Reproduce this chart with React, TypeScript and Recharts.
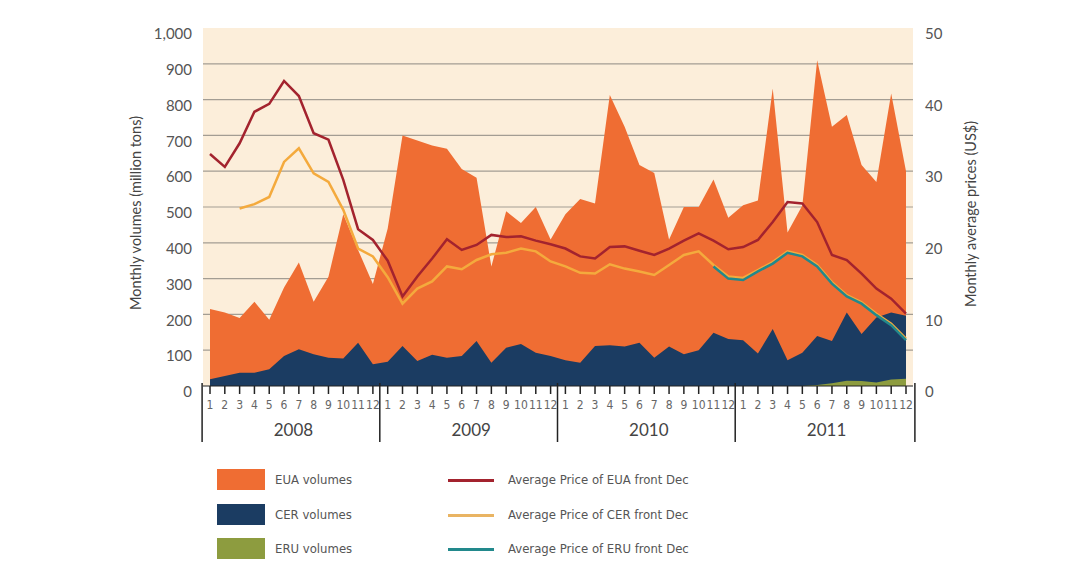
import React from 'react';
import { ComposedChart, Area, Line, XAxis, YAxis, CartesianGrid } from 'recharts';

const years = [2008, 2009, 2010, 2011];
const months = [1, 2, 3, 4, 5, 6, 7, 8, 9, 10, 11, 12];

// monthly volumes, million tons
const euaVolumes = [
  215, 205, 190, 235, 185, 275, 345, 235, 305, 480, 380, 285,
  440, 700, 686, 672, 663, 606, 582, 334, 488, 455, 500, 409,
  480, 522, 510, 813, 724, 617, 595, 409, 500, 500, 577, 470,
  505, 518, 831, 429, 504, 910, 724, 757, 617, 570, 817, 600,
];
const cerVolumes = [
  19, 28, 37, 37, 47, 84, 103, 89, 79, 77, 121, 61,
  68, 112, 70, 87, 79, 84, 126, 65, 107, 117, 93, 84,
  72, 65, 112, 114, 110, 121, 79, 110, 89, 100, 149, 131,
  128, 91, 159, 72, 93, 140, 126, 205, 145, 191, 205, 196,
];
const eruVolumes = [
  0, 0, 0, 0, 0, 0, 0, 0, 0, 0, 0, 0,
  0, 0, 0, 0, 0, 0, 0, 0, 0, 0, 0, 0,
  0, 0, 0, 0, 0, 0, 0, 0, 0, 0, 0, 0,
  0, 0, 0, 0, 0, 3, 8, 15, 14, 10, 18, 20,
];

// monthly average prices, US$
const euaPrice = [
  32.4, 30.6, 33.9, 38.3, 39.4, 42.6, 40.5, 35.3, 34.4, 28.8, 21.9, 20.4,
  17.5, 12.5, 15.3, 17.8, 20.5, 19.0, 19.7, 21.1, 20.8, 20.9, 20.3, 19.8,
  19.2, 18.1, 17.8, 19.4, 19.5, 18.9, 18.3, 19.2, 20.3, 21.3, 20.3, 19.1,
  19.4, 20.4, 22.9, 25.7, 25.5, 22.9, 18.3, 17.6, 15.7, 13.6, 12.2, 10.1,
];
const cerPrice = [
  null, null, 24.8, 25.4, 26.4, 31.3, 33.2, 29.7, 28.5, 24.6, 19.2, 18.1,
  15.2, 11.5, 13.6, 14.6, 16.7, 16.3, 17.6, 18.4, 18.6, 19.2, 18.8, 17.4,
  16.7, 15.8, 15.7, 17.0, 16.4, 16.0, 15.5, 16.9, 18.3, 18.8, 16.9, 15.3,
  15.1, 16.2, 17.3, 18.8, 18.3, 16.9, 14.5, 12.7, 11.7, 10.1, 8.7, 6.6,
];
const eruPrice = [
  null, null, null, null, null, null, null, null, null, null, null, null,
  null, null, null, null, null, null, null, null, null, null, null, null,
  null, null, null, null, null, null, null, null, null, null, 16.7, 15.0,
  14.8, 16.0, 17.1, 18.6, 18.1, 16.7, 14.3, 12.5, 11.5, 9.9, 8.5, 6.4,
];

const volumeTicks = [0, 100, 200, 300, 400, 500, 600, 700, 800, 900, 1000];
const priceTicks = [0, 10, 20, 30, 40, 50];

const periods = years.flatMap((y) => months.map((m) => `${y}-${m}`));
const data = periods.map((p, i) => ({
  period: p,
  eua: euaVolumes[i],
  cer: cerVolumes[i],
  eru: eruVolumes[i],
  euaP: euaPrice[i],
  cerP: cerPrice[i],
  eruP: eruPrice[i],
}));

const ORANGE = '#EF6D33';
const NAVY = '#1B3C62';
const GREEN = '#8D9C3F';
const RED = '#A3232E';
const YELLOW = '#F4AA3D';
const TEAL = '#22898C';
const HALF = 7.4;

const MonthTick = (props: any) => {
  const { x, y, payload } = props;
  const [yr, mo] = String(payload.value).split('-').map(Number);
  const last = yr === years[years.length - 1] && mo === 12;
  return (
    <g>
      <text x={x} y={y + 9} dy="0.35em" textAnchor="middle" fontSize={12}
        fontFamily="'DejaVu Sans Condensed', sans-serif" fill="#666">
        {mo}
      </text>
      {mo === 1 && <line x1={x - HALF - 0.5} x2={x - HALF - 0.5} y1={y - 13} y2={y + 46} stroke="#222" strokeWidth={1.5} />}
      {last && <line x1={x + HALF + 1.5} x2={x + HALF + 1.5} y1={y - 13} y2={y + 46} stroke="#222" strokeWidth={1.5} />}
      {mo === 6 && (
        <text x={x + HALF + 2} y={y + 34} dy="0.35em" textAnchor="middle" fontSize={17}
          fontFamily="Lato, sans-serif" fill="#444">
          {yr}
        </text>
      )}
    </g>
  );
};

const LeftTick = (props: any) => {
  const { x, y, payload } = props;
  return (
    <text x={x} y={y + 6} dy="0.35em" textAnchor="end" fontSize={15} fontFamily="Lato, sans-serif" fill="#555">
      {Number(payload.value).toLocaleString('en-US')}
    </text>
  );
};

const RightTick = (props: any) => {
  const { x, y, payload } = props;
  return (
    <text x={x} y={y + 6} dy="0.35em" textAnchor="start" fontSize={15} fontFamily="Lato, sans-serif" fill="#555">
      {payload.value}
    </text>
  );
};

const legendText: React.CSSProperties = {
  position: 'absolute',
  fontFamily: "'DejaVu Sans Condensed', sans-serif",
  fontSize: 13,
  color: '#555',
  lineHeight: '18px',
  whiteSpace: 'nowrap',
};

const axisTitle: React.CSSProperties = {
  position: 'absolute',
  transform: 'translate(-50%, -50%) rotate(-90deg)',
  whiteSpace: 'nowrap',
  fontFamily: 'Lato, sans-serif',
  fontSize: 14.5,
  color: '#444',
};

const volumeLegend = [
  { label: 'EUA volumes', color: ORANGE, top: 469 },
  { label: 'CER volumes', color: NAVY, top: 504 },
  { label: 'ERU volumes', color: GREEN, top: 538 },
];
const priceLegend = [
  { label: 'Average Price of EUA front Dec', color: RED, y: 480 },
  { label: 'Average Price of CER front Dec', color: '#E9B463', y: 515 },
  { label: 'Average Price of ERU front Dec', color: TEAL, y: 549 },
];

export default function App() {
  return (
    <div style={{ position: 'absolute', left: 0, top: 0, width: 1080, height: 581, background: '#fff' }}>
      <ComposedChart width={1080} height={581} data={data}
        margin={{ top: 28, left: 120, right: 120, bottom: 137 }}>
        <CartesianGrid yAxisId="vol" vertical={false} horizontal stroke="#A39D93" strokeWidth={1.2}
          fill="#FCEEDA" fillOpacity={1} horizontalValues={[100, 200, 300, 400, 500, 600, 700, 800, 900]} />
        <XAxis dataKey="period" scale="point" interval={0} padding={{ left: 7, right: 7 }}
          height={58} tickSize={8} tickMargin={2} tickLine={{ stroke: '#222', strokeWidth: 1.5 }}
          axisLine={{ stroke: '#222', strokeWidth: 1 }} tick={<MonthTick />} />
        <YAxis yAxisId="vol" orientation="left" width={83} domain={[0, 1000]} ticks={volumeTicks}
          axisLine={false} tickLine={false} tickSize={0} tickMargin={11} tick={<LeftTick />} />
        <YAxis yAxisId="price" orientation="right" width={47} domain={[0, 50]} ticks={priceTicks}
          axisLine={false} tickLine={false} tickSize={0} tickMargin={12} tick={<RightTick />} />
        <Area yAxisId="vol" type="linear" dataKey="eua" stroke="none" fill={ORANGE} fillOpacity={1} isAnimationActive={false} />
        <Area yAxisId="vol" type="linear" dataKey="cer" stroke="none" fill={NAVY} fillOpacity={1} isAnimationActive={false} />
        <Area yAxisId="vol" type="linear" dataKey="eru" stroke="none" fill={GREEN} fillOpacity={1} isAnimationActive={false} />
        <Line yAxisId="price" type="linear" dataKey="euaP" stroke={RED} strokeWidth={2.5} dot={false} isAnimationActive={false} />
        <Line yAxisId="price" type="linear" dataKey="cerP" stroke={YELLOW} strokeWidth={2.5} dot={false} isAnimationActive={false} />
        <Line yAxisId="price" type="linear" dataKey="eruP" stroke={TEAL} strokeWidth={2.5} dot={false} isAnimationActive={false} />
      </ComposedChart>

      <div style={{ ...axisTitle, left: 135, top: 213 }}>Monthly volumes (million tons)</div>
      <div style={{ ...axisTitle, left: 970, top: 214 }}>Monthly average prices (US$)</div>

      {volumeLegend.map((l) => (
        <React.Fragment key={l.label}>
          <div style={{ position: 'absolute', left: 217, top: l.top, width: 48, height: 21, background: l.color }} />
          <div style={{ ...legendText, left: 275, top: l.top + 2 }}>{l.label}</div>
        </React.Fragment>
      ))}
      {priceLegend.map((l) => (
        <React.Fragment key={l.label}>
          <div style={{ position: 'absolute', left: 448, top: l.y - 1.5, width: 46, height: 3, background: l.color }} />
          <div style={{ ...legendText, left: 508, top: l.y - 9 }}>{l.label}</div>
        </React.Fragment>
      ))}
    </div>
  );
}
